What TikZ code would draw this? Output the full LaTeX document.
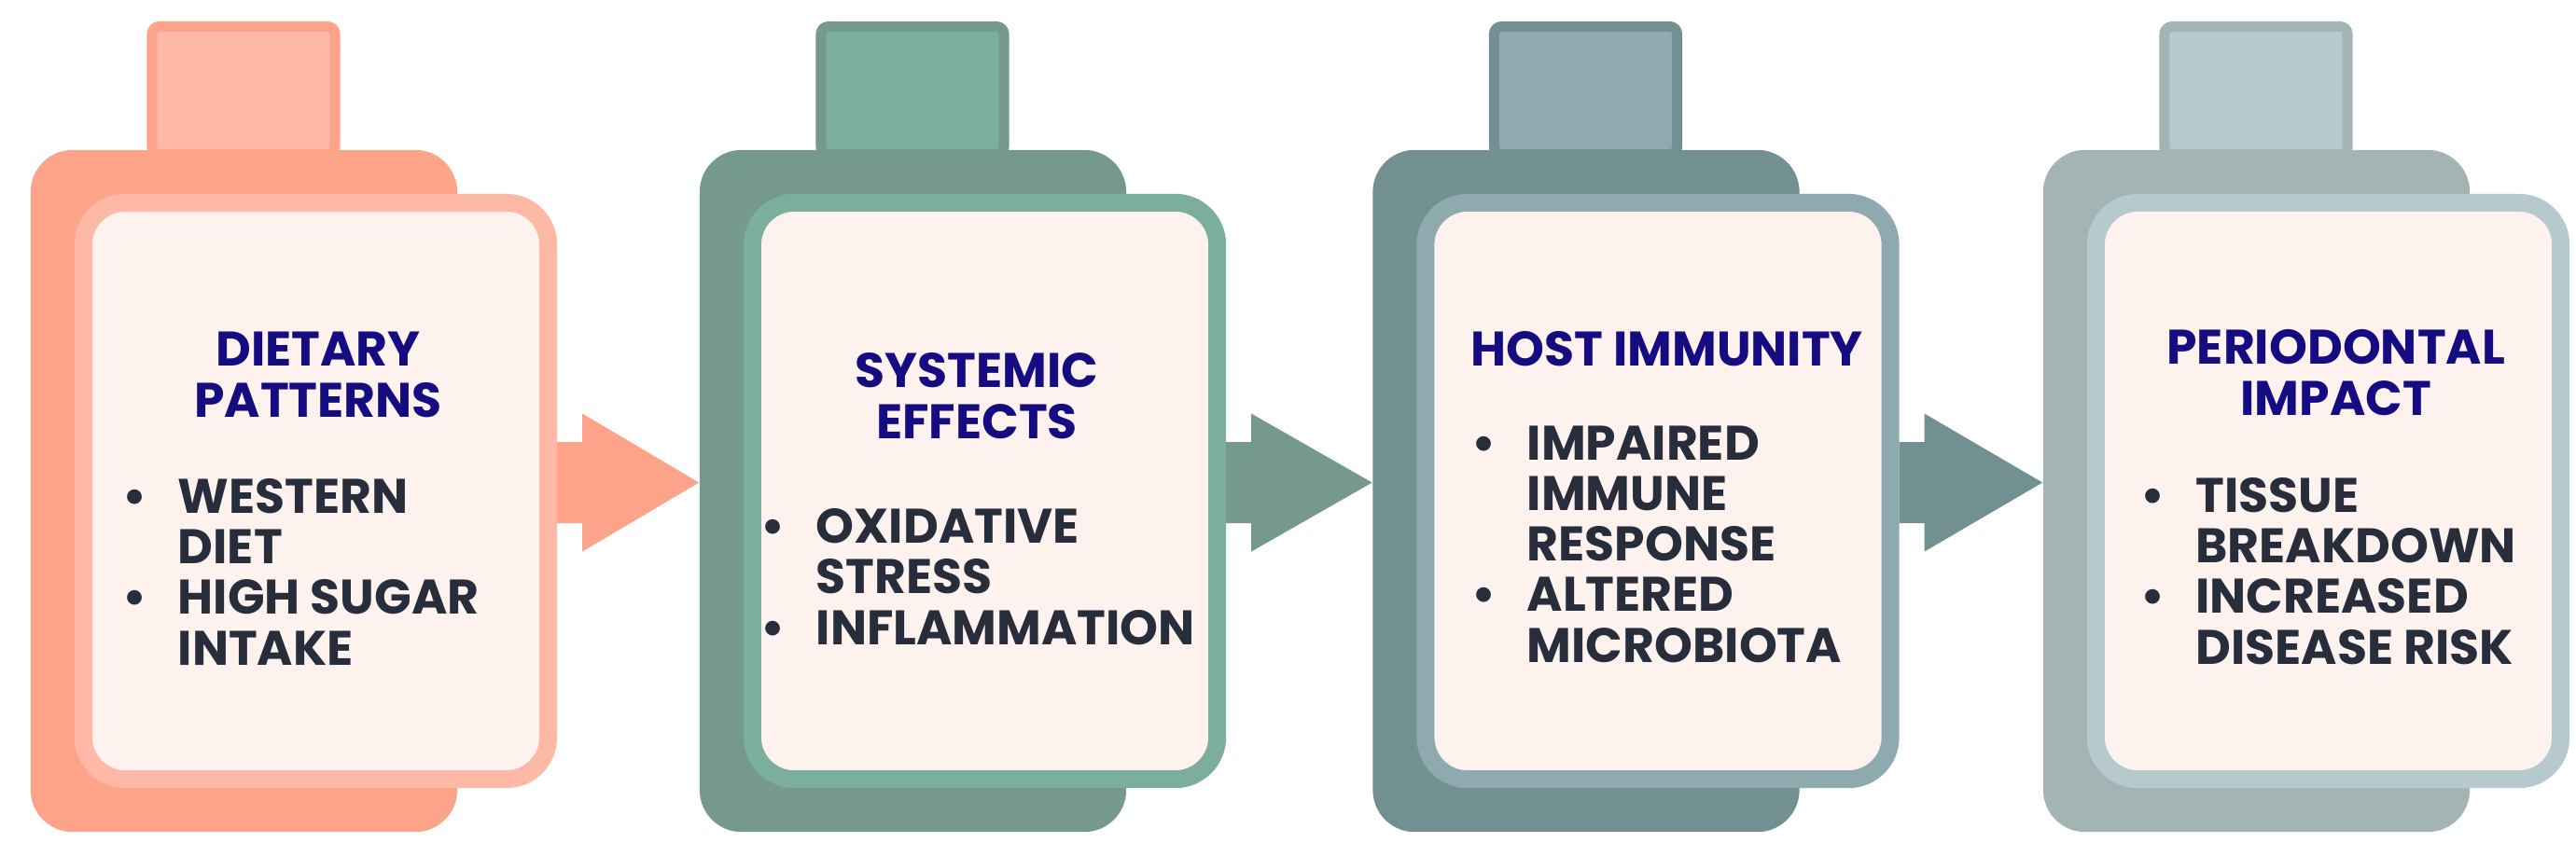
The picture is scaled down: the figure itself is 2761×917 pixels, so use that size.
\documentclass[tikz,border=0pt]{standalone}
\usepackage{fontspec}
\setmainfont{Poppins}
\usepackage{tikz}
\usetikzlibrary{calc,positioning}
\definecolor{salmao}{HTML}{FCA38A}
\definecolor{salmaoclaro}{HTML}{FDB8A6}
\definecolor{musgo}{HTML}{75998A}
\definecolor{musgoclaro}{HTML}{7BAE9C}
\definecolor{petroleo}{HTML}{728F91}
\definecolor{petroleoclaro}{HTML}{8EAAAE}
\definecolor{cinza}{HTML}{A2B4B4}
\definecolor{cinzaclaro}{HTML}{B6CACD}
\definecolor{creme}{HTML}{FDF2EE}
\definecolor{anil}{HTML}{160C82}
\definecolor{grafite}{HTML}{272D3B}
\tikzset{
  corpo/.style={rectangle,rounded corners=0.45cm,minimum width=4.57cm,minimum height=7.31cm,inner sep=0pt},
  tampa/.style={rectangle,rounded corners=0.08cm,line width=0.11cm,minimum width=1.96cm,minimum height=1.37cm,inner sep=0pt},
  cartao/.style={rectangle,rounded corners=0.45cm,line width=0.19cm,fill=creme,minimum width=4.98cm,minimum height=6.18cm,inner sep=0pt},
  titulo/.style={font=\bfseries\fontsize{14.8pt}{15.4pt}\selectfont,text=anil,align=center,inner sep=0pt},
  lista/.style={font=\bfseries\fontsize{14.8pt}{15.4pt}\selectfont,text=grafite,align=left,inner sep=0pt}
}
\newcommand{\marca}{\llap{\textbullet\hspace{0.33cm}}}
\newcommand{\frasco}[4]{% indice, x esquerdo, cor escura, cor clara
  \node[tampa,draw=#3,fill=#4] (tampa#1) at (#2+228,97) {};
  \node[corpo,fill=#3] (corpo#1) at (#2+228.5,526.5) {};
  \node[cartao,draw=#4] (cartao#1) at (#2+305.5,526.5) {};}
\newcommand{\seta}[3]{% de, para, cor
  \coordinate (s#1) at ($(cartao#1.east)+(0,-9)$);
  \coordinate (p#2) at ($(corpo#2.west)+(0,-9)$);
  \fill[#3] ($(s#1)+(0,-43.5)$) -- ($(s#1)+(27,-43.5)$) -- ($(s#1)+(27,-74)$) -- (p#2)
    -- ($(s#1)+(27,74)$) -- ($(s#1)+(27,43.5)$) -- ($(s#1)+(0,43.5)$) -- cycle;}

\begin{document}
\begin{tikzpicture}[x=0.01cm,y=-0.01cm]
  \useasboundingbox (0,0) rectangle (2761,917);
  % frascos
  \frasco{1}{33}{salmao}{salmaoclaro}
  \frasco{2}{750}{musgo}{musgoclaro}
  \frasco{3}{1471.5}{petroleo}{petroleoclaro}
  \frasco{4}{2190}{cinza}{cinzaclaro}
  % setas
  \seta{1}{2}{salmao}
  \seta{2}{3}{musgo}
  \seta{3}{4}{petroleo}
  % textos (ancorados na linha de base da ultima linha)
  \node[titulo,anchor=base] (titulo1) at (341,447) {DIETARY\\PATTERNS};
  \node[lista,anchor=base west] (lista1) at (190,713) {\marca WESTERN\\DIET\\\marca HIGH SUGAR\\INTAKE};
  \node[titulo,anchor=base] (titulo2) at (1047,470) {SYSTEMIC\\EFFECTS};
  \node[lista,anchor=base west] (lista2) at (874,691) {\marca OXIDATIVE\\STRESS\\\marca INFLAMMATION};
  \node[titulo,anchor=base] (titulo3) at (1786.6,392) {HOST IMMUNITY};
  \node[lista,anchor=base west] (lista3) at (1636,710) {\marca IMPAIRED\\IMMUNE\\RESPONSE\\\marca ALTERED\\MICROBIOTA};
  \node[titulo,anchor=base] (titulo4) at (2503.7,445) {PERIODONTAL\\IMPACT};
  \node[lista,anchor=base west] (lista4) at (2352.6,712) {\marca TISSUE\\BREAKDOWN\\\marca INCREASED\\DISEASE RISK};
\end{tikzpicture}
\end{document}
